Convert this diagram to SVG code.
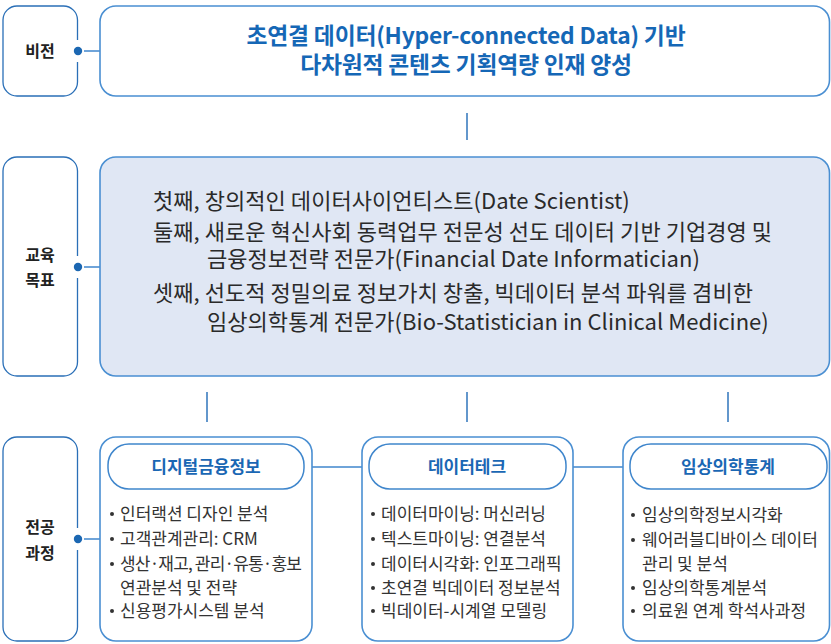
<svg xmlns="http://www.w3.org/2000/svg" width="831" height="644" viewBox="0 0 831 644">
<style>
.lab{fill:#fff;stroke:#2a6fb7;stroke-width:1.3}
.box{fill:#fff;stroke:#4a8fd2;stroke-width:1.6}
.goal{fill:#e0e7f4;stroke:#4a8fd2;stroke-width:1.6}
.pill{fill:#fff;stroke:#3f86cc;stroke-width:1.5}
.conn{stroke:#3f86cc;stroke-width:1.5;fill:none}
.vconn{stroke:#2f74bb;stroke-width:1.5;fill:none}
.t{font-family:"Noto Sans CJK KR","Noto Sans",sans-serif}
.lt{font-size:16px;font-weight:700;fill:#222;text-anchor:middle}
.vt{font-size:22.8px;font-weight:700;fill:#1567b6;text-anchor:middle;letter-spacing:-0.2px}
.gt{font-size:22px;fill:#2a2a2a;letter-spacing:0.05px}
.ht{font-size:17px;font-weight:700;fill:#1a67b4;text-anchor:middle}
.it{font-size:17px;fill:#333}
.dot{fill:#1b67b2}
.ring{fill:#fff}
.bul{fill:#333}
</style>

<g id="connectors">
<line class="conn" x1="78" y1="51" x2="100" y2="51"/>
<line class="conn" x1="78" y1="267" x2="100" y2="267"/>
<line class="conn" x1="78" y1="539" x2="100" y2="539"/>
<line class="vconn" x1="467" y1="113" x2="467" y2="140"/>
<line class="vconn" x1="207" y1="392" x2="207" y2="422"/>
<line class="vconn" x1="467" y1="392" x2="467" y2="422"/>
<line class="vconn" x1="728" y1="392" x2="728" y2="422"/>
<line class="conn" x1="312" y1="467" x2="362" y2="467"/>
<line class="conn" x1="573" y1="467" x2="623" y2="467"/>
</g>

<g id="label-vision">
<rect class="lab" x="3" y="6" width="74.5" height="90" rx="14"/>
<rect class="ring" x="72" y="40" width="12" height="22"/>
<circle class="dot" cx="78" cy="51" r="4.2"/>
<text class="t lt" x="40" y="57">비전</text>
</g>

<g id="vision">
<rect class="box" x="100" y="6" width="729.5" height="90" rx="16"/>
<text class="t vt" x="466" y="44">초연결 데이터(Hyper-connected Data) 기반</text>
<text class="t vt" x="466" y="73">다차원적 콘텐츠 기획역량 인재 양성</text>
</g>

<g id="label-goal">
<rect class="lab" x="3" y="157" width="74.5" height="219" rx="14"/>
<rect class="ring" x="72" y="256" width="12" height="22"/>
<circle class="dot" cx="78" cy="267" r="4.2"/>
<text class="t lt" x="40" y="261">교육</text>
<text class="t lt" x="40" y="286">목표</text>
</g>

<g id="goals">
<rect class="goal" x="100" y="157" width="729.5" height="219" rx="16"/>
<text class="t gt" x="153" y="208.5">첫째, 창의적인 데이터사이언티스트(Date Scientist)</text>
<text class="t gt" x="153" y="240">둘째, 새로운 혁신사회 동력업무 전문성 선도 데이터 기반 기업경영 및</text>
<text class="t gt" x="207" y="267">금융정보전략 전문가(Financial Date Informatician)</text>
<text class="t gt" x="153" y="300.5">셋째, 선도적 정밀의료 정보가치 창출, 빅데이터 분석 파워를 겸비한</text>
<text class="t gt" x="207" y="330">임상의학통계 전문가(Bio-Statistician in Clinical Medicine)</text>
</g>

<g id="label-course">
<rect class="lab" x="3" y="437" width="74.5" height="204" rx="14"/>
<rect class="ring" x="72" y="528" width="12" height="22"/>
<circle class="dot" cx="78" cy="539" r="4.2"/>
<text class="t lt" x="40" y="533">전공</text>
<text class="t lt" x="40" y="559">과정</text>
</g>

<g id="course-finance">
<rect class="box" x="100" y="437" width="212" height="204" rx="16"/>
<rect class="pill" x="108" y="444" width="196" height="45" rx="21"/>
<text class="t ht" x="206" y="473">디지털금융정보</text>
<circle class="bul" cx="112" cy="514" r="2"/>
<text class="t it" x="120" y="519.5">인터랙션 디자인 분석</text>
<circle class="bul" cx="112" cy="539" r="2"/>
<text class="t it" x="120" y="544.5">고객관계관리: CRM</text>
<circle class="bul" cx="112" cy="564" r="2"/>
<text class="t it" x="120" y="569.5" textLength="182" lengthAdjust="spacing">생산·재고, 관리·유통·홍보</text>
<text class="t it" x="120" y="593.5">연관분석 및 전략</text>
<circle class="bul" cx="112" cy="611" r="2"/>
<text class="t it" x="120" y="616.5">신용평가시스템 분석</text>
</g>

<g id="course-datatech">
<rect class="box" x="362" y="437" width="211" height="204" rx="16"/>
<rect class="pill" x="369" y="444" width="197" height="45" rx="21"/>
<text class="t ht" x="467" y="473">데이터테크</text>
<circle class="bul" cx="373" cy="514" r="2"/>
<text class="t it" x="381" y="519.5">데이터마이닝: 머신러닝</text>
<circle class="bul" cx="373" cy="539" r="2"/>
<text class="t it" x="381" y="544.5">텍스트마이닝: 연결분석</text>
<circle class="bul" cx="373" cy="564" r="2"/>
<text class="t it" x="381" y="569.5">데이터시각화: 인포그래픽</text>
<circle class="bul" cx="373" cy="588" r="2"/>
<text class="t it" x="381" y="593.5">초연결 빅데이터 정보분석</text>
<circle class="bul" cx="373" cy="611" r="2"/>
<text class="t it" x="381" y="616.5">빅데이터-시계열 모델링</text>
</g>

<g id="course-clinical">
<rect class="box" x="623" y="437" width="206.5" height="204" rx="16"/>
<rect class="pill" x="630" y="444" width="197" height="45" rx="21"/>
<text class="t ht" x="728" y="473">임상의학통계</text>
<circle class="bul" cx="633" cy="515" r="2"/>
<text class="t it" x="642" y="520.5">임상의학정보시각화</text>
<circle class="bul" cx="633" cy="540" r="2"/>
<text class="t it" x="642" y="545.5">웨어러블디바이스 데이터</text>
<text class="t it" x="642" y="569.5">관리 및 분석</text>
<circle class="bul" cx="633" cy="588" r="2"/>
<text class="t it" x="642" y="593.5">임상의학통계분석</text>
<circle class="bul" cx="633" cy="611" r="2"/>
<text class="t it" x="642" y="616.5">의료원 연계 학석사과정</text>
</g>
</svg>
